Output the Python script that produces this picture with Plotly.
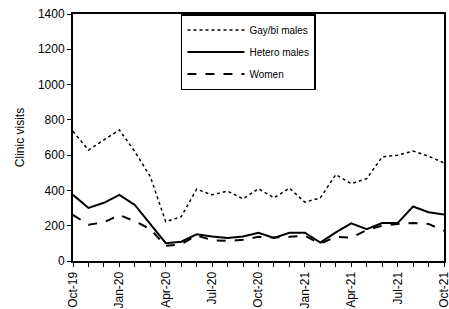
import plotly.graph_objects as go

months = ["Oct-19","Nov-19","Dec-19","Jan-20","Feb-20","Mar-20","Apr-20","May-20","Jun-20",
          "Jul-20","Aug-20","Sep-20","Oct-20","Nov-20","Dec-20","Jan-21","Feb-21","Mar-21",
          "Apr-21","May-21","Jun-21","Jul-21","Aug-21","Sep-21","Oct-21"]
gay_bi = [735,629,686,743,620,478,223,251,407,375,396,352,410,358,413,333,358,490,438,467,590,600,623,594,556]
hetero = [375,301,330,375,318,210,101,109,151,139,130,139,160,131,160,160,105,162,213,181,215,215,309,276,263]
women = [261,206,219,261,225,181,86,95,145,118,114,120,137,133,137,143,98,137,133,175,200,210,215,210,171]
labeled = ["Oct-19","Jan-20","Apr-20","Jul-20","Oct-20","Jan-21","Apr-21","Jul-21","Oct-21"]
tick_text = [m if m in labeled else "" for m in months]
series_names = ["Gay/bi males", "Hetero males", "Women"]

fig = go.Figure()
fig.add_trace(go.Scatter(x=months, y=gay_bi, mode="lines", name=series_names[0],
                         line=dict(color="black", width=1.5, dash="dot"), legendgroup="a"))
fig.add_trace(go.Scatter(x=months, y=hetero, mode="lines", name=series_names[1],
                         line=dict(color="black", width=2), legendgroup="b"))
fig.add_trace(go.Scatter(x=months, y=women, mode="lines", name=series_names[2],
                         line=dict(color="black", width=2, dash="dash"), legendgroup="c"))

font = dict(family="Liberation Sans, Arial, sans-serif", size=12, color="black")
fig.update_layout(
    width=449, height=309,
    margin=dict(l=73, r=5, t=14, b=48),
    paper_bgcolor="white", plot_bgcolor="white",
    font=font,
    showlegend=True,
    legend=dict(x=0.291, y=1, xanchor="left", yanchor="top",
                bordercolor="black", borderwidth=1.5, bgcolor="white",
                font=dict(family="Liberation Sans, Arial, sans-serif", size=10, color="black"),
                traceorder="grouped", tracegroupgap=3, itemwidth=57,
                entrywidthmode="pixels", entrywidth=97),
    xaxis=dict(type="category", range=[0, 24], tickmode="array", tickvals=months,
               ticktext=tick_text, tickangle=-90, ticks="outside", ticklen=4,
               tickcolor="black", showline=True, linecolor="black", linewidth=2,
               mirror=True, showgrid=False, zeroline=False, automargin=False),
    yaxis=dict(range=[0, 1400], dtick=200, ticks="outside", ticklen=4, tickcolor="black",
               showline=True, linecolor="black", linewidth=2, mirror=True,
               showgrid=False, zeroline=False, automargin=False,
               title=dict(text="Clinic visits", font=dict(size=12), standoff=11)),
)
fig.write_html("out.html", config={"displayModeBar": False},
               post_script="document.body.style.margin='0';")
